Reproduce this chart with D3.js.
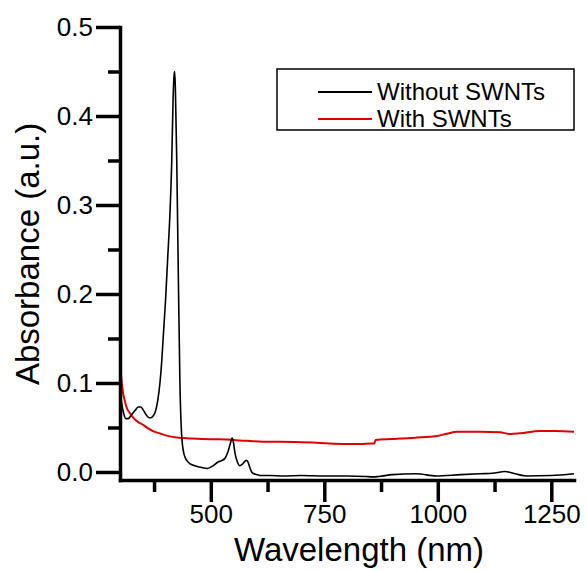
<!DOCTYPE html>
<html>
<head>
<meta charset="utf-8">
<script src="https://cdn.jsdelivr.net/npm/d3@7"></script>
<style>
  body { margin: 0; background: #fff; }
  text { font-family: Arial, "Liberation Sans", sans-serif; fill: #000; }
  .axis .domain { stroke: #000; stroke-width: 3.5; stroke-linecap: square; }
  .axis .tick line { stroke: #000; stroke-width: 3.5; }
  .axis .tick text { font-size: 26px; }
  .title { font-size: 33px; }
  .legend-text { font-size: 24px; }
</style>
</head>
<body>
<div id="chart"></div>
<script>
// Without SWNTs (black)
const wlWithout = [300, 303, 308, 313, 318, 325, 333, 340, 346, 352, 358, 364, 368, 373, 378, 383, 388, 392, 396, 400,
  405, 410, 414, 417, 419, 420.5, 422, 425, 428.5, 432, 436, 441, 447, 455, 465, 480, 492, 505, 515, 525,
  532, 538, 543, 547, 550, 553, 558, 564, 570, 575, 578, 582, 586, 590, 595, 602, 612, 630, 660, 700,
  750, 800, 840, 857, 870, 900, 953, 997, 1050, 1093, 1120, 1148, 1170, 1196, 1250, 1300]
const absWithout = [0.095, 0.08, 0.066, 0.06, 0.06, 0.064, 0.069, 0.073, 0.073, 0.069, 0.064, 0.061, 0.061, 0.063, 0.068, 0.08, 0.1, 0.125, 0.158, 0.19,
  0.24, 0.29, 0.35, 0.42, 0.445, 0.45, 0.43, 0.35, 0.22, 0.1, 0.04, 0.02, 0.013, 0.009, 0.007, 0.005, 0.004, 0.007, 0.011, 0.013,
  0.016, 0.023, 0.032, 0.038, 0.033, 0.022, 0.012, 0.007, 0.009, 0.012, 0.013, 0.011, 0.005, 0.0, -0.002, -0.003, -0.004, -0.004, -0.0045, -0.004,
  -0.0045, -0.0045, -0.005, -0.0055, -0.005, -0.003, -0.002, -0.0045, -0.003, -0.002, -0.0015, 0.0005, -0.002, -0.0045, -0.004, -0.002]

// With SWNTs (red)
const wlWith = [300, 303, 307, 311, 315, 322, 329, 340, 351, 362, 373, 390, 410, 430, 447, 480, 520, 580, 630, 652,
  700, 725, 760, 799, 830, 854, 860, 863, 900, 950, 997, 1020, 1042, 1093, 1137, 1159, 1181, 1225, 1260, 1300]
const absWith = [0.12, 0.104, 0.088, 0.079, 0.072, 0.066, 0.061, 0.056, 0.053, 0.049, 0.046, 0.043, 0.040, 0.0385, 0.038, 0.037, 0.0367, 0.035, 0.034, 0.034,
  0.0335, 0.033, 0.032, 0.0315, 0.0315, 0.032, 0.032, 0.036, 0.037, 0.0385, 0.0404, 0.043, 0.0453, 0.0453, 0.0446, 0.0427, 0.0435, 0.046, 0.046, 0.0453]

// ticks
const xTicks = [500, 750, 1000, 1250]
const xMinor = [375, 625, 875, 1125]
const yTicks = [0.0, 0.1, 0.2, 0.3, 0.4, 0.5]
const yMinor = [0.05, 0.15, 0.25, 0.35, 0.45]

const seriesNames = ["Without SWNTs", "With SWNTs"]
const seriesColors = ["#000000", "#e00000"]

const margin = {top: 27, right: 13, bottom: 91, left: 120};
const width = 587 - margin.left - margin.right;
const height = 571 - margin.top - margin.bottom;

const svg = d3.select("#chart")
  .append("svg")
    .attr("width", 587)
    .attr("height", 571)
  .append("g")
    .attr("transform", "translate(" + margin.left + "," + margin.top + ")");

const xScale = d3.scaleLinear().domain([300, 1300]).range([0, width]);
const yScale = d3.scaleLinear().domain([-0.009, 0.5]).range([height, 0]);

// lines
const toPoints = (xs, ys) => xs.map((x, i) => ({x: x, y: ys[i]}));
const line = d3.line()
  .x(d => xScale(d.x))
  .y(d => yScale(d.y))
  .curve(d3.curveMonotoneX);

svg.append("path")
  .datum(toPoints(wlWith, absWith))
  .attr("fill", "none")
  .attr("stroke", seriesColors[1])
  .attr("stroke-width", 2)
  .attr("d", line);

svg.append("path")
  .datum(toPoints(wlWithout, absWithout))
  .attr("fill", "none")
  .attr("stroke", seriesColors[0])
  .attr("stroke-width", 1.6)
  .attr("d", line);

// minor ticks
svg.append("g")
  .attr("class", "axis")
  .attr("transform", "translate(0," + height + ")")
  .call(d3.axisBottom(xScale).tickValues(xMinor).tickSize(12).tickFormat(""))
  .call(g => g.select(".domain").remove());
svg.append("g")
  .attr("class", "axis")
  .call(d3.axisLeft(yScale).tickValues(yMinor).tickSize(12).tickFormat(""))
  .call(g => g.select(".domain").remove());

// major axes
svg.append("g")
  .attr("class", "axis")
  .attr("transform", "translate(0," + height + ")")
  .call(d3.axisBottom(xScale).tickValues(xTicks).tickSize(22).tickSizeOuter(0).tickPadding(3).tickFormat(d3.format("d")));
svg.append("g")
  .attr("class", "axis")
  .call(d3.axisLeft(yScale).tickValues(yTicks).tickSize(24).tickSizeOuter(0).tickPadding(3).tickFormat(d3.format(".1f")));

// axis titles
svg.append("text")
  .attr("class", "title")
  .attr("x", width / 2 + 12)
  .attr("y", height + 81)
  .attr("text-anchor", "middle")
  .text("Wavelength (nm)");

svg.append("text")
  .attr("class", "title")
  .attr("transform", "translate(" + (-81) + "," + (yScale(0.245)) + ") rotate(-90)")
  .attr("text-anchor", "middle")
  .text("Absorbance (a.u.)");

// legend
const legend = svg.append("g")
  .attr("transform", "translate(" + (277 - margin.left) + "," + (69 - margin.top) + ")");

legend.append("rect")
  .attr("width", 297)
  .attr("height", 61)
  .attr("fill", "#fff")
  .attr("stroke", "#000")
  .attr("stroke-width", 1.5);

const legendRow = legend.selectAll(".row")
  .data(seriesNames)
  .enter()
  .append("g")
    .attr("transform", (d, i) => "translate(0," + (23 + i * 27) + ")");

legendRow.append("line")
  .attr("x1", 41)
  .attr("x2", 95)
  .attr("stroke", (d, i) => seriesColors[i])
  .attr("stroke-width", 2);

legendRow.append("text")
  .attr("class", "legend-text")
  .attr("x", 100)
  .attr("y", 8)
  .text(d => d);
</script>
</body>
</html>
